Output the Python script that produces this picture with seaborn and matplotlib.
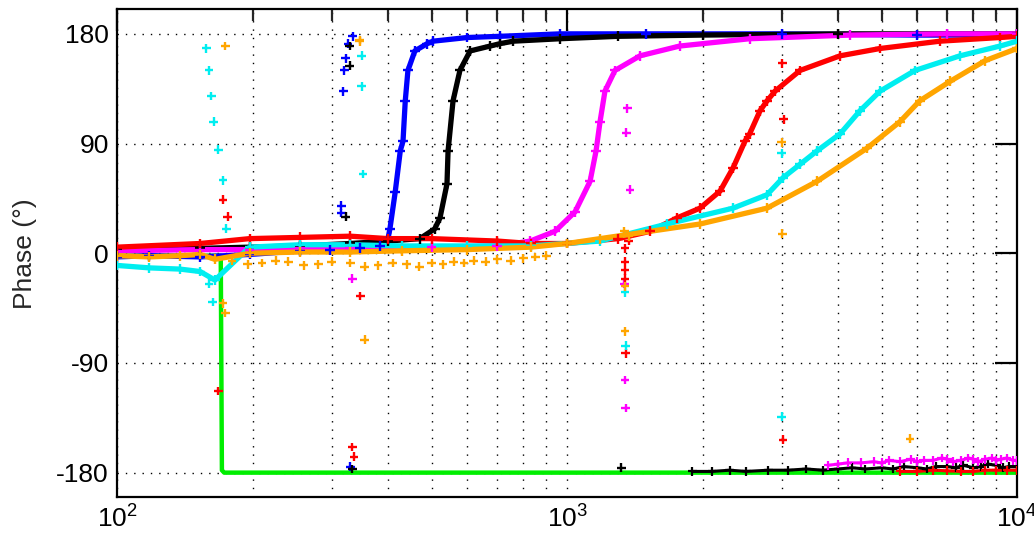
import numpy as np
import pandas as pd
import matplotlib
matplotlib.use("Agg")
import matplotlib.pyplot as plt
import seaborn as sns
from matplotlib.ticker import FixedLocator, NullFormatter, LogFormatterSciNotation

# ---------------- data ----------------
blue_f = [100, 118, 153, 197, 255, 297, 347, 384, 400, 404, 415, 426, 432, 437, 443, 459, 489, 504, 600, 710, 965, 1500, 3000, 6000, 10000]
blue_p = [-3, -2, -3, -1, 2, 3, 4, 6, 12, 20, 50, 84, 92, 125, 150, 166, 172, 174, 177, 178, 180, 180, 180, 179, 179]

black_f = [100, 153, 197, 255, 330, 400, 471, 508, 522, 541, 544, 558, 578, 609, 675, 710, 760, 965, 1300, 2000, 4000, 10000]
black_p = [3, 4, 5, 6, 8, 10, 12, 20, 29, 57, 84, 125, 150, 166, 170, 172, 174, 176, 178, 179, 180, 180]

magenta_f = [100, 153, 197, 255, 330, 500, 700, 828, 940, 1042, 1125, 1160, 1184, 1214, 1278, 1453, 1779, 2546, 4256, 7000, 10000]
magenta_p = [2, 3, 3, 4, 4, 5, 6, 10, 18, 34, 59, 84, 108, 133, 150, 162, 170, 176, 179, 180, 180]

red_f = [100, 153, 197, 255, 330, 400, 500, 700, 830, 1000, 1300, 1530, 1755, 1975, 2188, 2338, 2486, 2546, 2685, 2782, 2899, 3295, 4045, 4962, 6745, 9167, 10000]
red_p = [5, 8, 12, 13, 14, 12, 12, 10, 8, 8, 12, 18, 29, 37, 51, 70, 92, 98, 117, 125, 133, 150, 162, 168, 174, 177, 178]

cyan_f = [100, 118, 138, 153, 165, 197, 255, 330, 430, 600, 830, 1184, 1668, 2338, 2782, 3020, 3295, 3594, 4045, 4479, 4962, 5934, 7470, 9167, 10000]
cyan_p = [-10, -12, -13, -15, -22, 5, 7, 7, 6, 6, 6, 10, 24, 37, 48, 62, 73, 84, 98, 117, 133, 150, 162, 170, 174]

orange_f = [100, 118, 138, 153, 165, 197, 255, 330, 430, 600, 830, 1000, 1184, 1975, 2782, 3594, 4634, 5495, 6075, 7098, 8490, 10000]
orange_p = [-2, -3, -2, -1, -5, 0, 1, 1, 2, 3, 5, 8, 12, 24, 37, 59, 86, 108, 125, 141, 158, 168]

green_f = [100, 170, 171, 173, 10000]
green_p = [-2, -2, -178, -180, -180]

# scattered points (lower band, wrapped phases, outliers)
orange_low_f = [180, 195, 210, 225, 240, 260, 280, 300, 330, 355, 380, 410, 440, 470, 500, 530, 560, 590, 620, 660, 700, 750, 800, 850, 900]
orange_low_p = [-6, -9, -8, -6, -7, -10, -9, -7, -8, -11, -10, -8, -9, -11, -8, -9, -7, -8, -6, -7, -5, -6, -4, -3, -2]

black_wrap_f = [1900, 2100, 2300, 2500, 2800, 3100, 3400, 3700, 4000, 4300, 4600, 5000, 5300, 5600, 6000, 6300, 6600, 7000, 7300, 7600, 8000, 8300, 8600, 9000, 9300, 9600, 10000]
black_wrap_p = [-179, -179, -178, -179, -178, -178, -177, -178, -177, -176, -177, -176, -177, -175, -176, -177, -175, -175, -176, -174, -176, -175, -173, -174, -176, -175, -175]
magenta_wrap_f = [3800, 4000, 4200, 4500, 4800, 5000, 5200, 5500, 5800, 6000, 6200, 6500, 6800, 7000, 7200, 7500, 7800, 8000, 8200, 8500, 8800, 9000, 9200, 9500, 9800, 10000]
magenta_wrap_p = [-174, -173, -172, -172, -171, -172, -170, -171, -169, -171, -170, -170, -168, -169, -171, -170, -168, -169, -171, -169, -168, -170, -169, -168, -170, -170]
red_wrap_f = [5500, 6000, 6500, 7000, 7500, 8000, 8500, 9000, 9500, 10000]
red_wrap_p = [-179, -179, -178, -178.5, -179, -179, -178, -178, -178, -178]

blue_out_f = [318, 320, 322, 326, 334, 315, 315, 330]
blue_out_p = [133, 150, 160, 172, 178, 39, 33, -175]
black_out_f = [329, 329, 322, 333, 1320]
black_out_p = [154, 170, 30, -177, -176]
magenta_out_f = [1360, 1355, 1380, 1340, 1345, 1350, 333]
magenta_out_p = [119, 99, 52, -25, -104, -127, -21]
red_out_f = [1345, 1345, 1345, 1345, 1350, 1370, 3010, 3030, 3020, 333, 336, 347, 168, 172, 176]
red_out_p = [4, -7, -14, -21, -82, 10, 156, 110, -153, -159, -167, -35, -113, 44, 30]
cyan_out_f = [1345, 1350, 3000, 3000, 350, 350, 352, 158, 160, 162, 164, 168, 172, 175, 160, 163]
cyan_out_p = [-32, -76, 82, -134, 162, 137, 65, 168, 150, 129, 108, 85, 60, 20, -25, -40]
orange_out_f = [1340, 1345, 1345, 1370, 3000, 3010, 5780, 346, 346, 355, 174, 172, 174]
orange_out_p = [18, -27, -64, 14, 91, 16, -152, 174, 175, -71, 170, -41, -49]

# ---------------- build tables ----------------
colors = {"blue": "#0000ff", "black": "#000000", "magenta": "#ff00ff",
          "red": "#ff0000", "cyan": "#00eef0", "orange": "#ffa500", "green": "#00ee00"}

lines = {"blue": (blue_f, blue_p), "black": (black_f, black_p),
         "magenta": (magenta_f, magenta_p), "red": (red_f, red_p),
         "cyan": (cyan_f, cyan_p), "orange": (orange_f, orange_p)}
df_lines = pd.concat([pd.DataFrame({"f": f, "phase": p, "s": k}) for k, (f, p) in lines.items()],
                     ignore_index=True)
df_green = pd.DataFrame({"f": green_f, "phase": green_p, "s": "green"})

wraps = {"black": (black_wrap_f, black_wrap_p), "magenta": (magenta_wrap_f, magenta_wrap_p),
         "red": (red_wrap_f, red_wrap_p)}
df_wrap = pd.concat([pd.DataFrame({"f": f, "phase": p, "s": k}) for k, (f, p) in wraps.items()],
                    ignore_index=True)

pts = {"blue": [(blue_out_f, blue_out_p)],
       "black": [(black_out_f, black_out_p)],
       "magenta": [(magenta_out_f, magenta_out_p)],
       "red": [(red_out_f, red_out_p)],
       "cyan": [(cyan_out_f, cyan_out_p)],
       "orange": [(orange_low_f, orange_low_p), (orange_out_f, orange_out_p)]}
df_pts = pd.concat([pd.DataFrame({"f": f, "phase": p, "s": k})
                    for k, lst in pts.items() for (f, p) in lst], ignore_index=True)

# ---------------- plot ----------------
sns.set_style("white")
plt.rcParams['font.family'] = ['Liberation Sans', 'DejaVu Sans']
plt.rcParams['axes.unicode_minus'] = False

fig = plt.figure(figsize=(10.34, 5.42), dpi=100)
ax = fig.add_axes([0.1132, 0.083, 0.8704, 0.8995])
ax.set_xscale("log")

order = ["blue", "black", "magenta", "red", "cyan", "orange"]

sns.lineplot(data=df_green, x="f", y="phase", color=colors["green"], lw=3.2,
             estimator=None, sort=False, ax=ax, zorder=2)
sns.lineplot(data=df_wrap, x="f", y="phase", hue="s", hue_order=["red", "black", "magenta"],
             palette=colors, lw=2.2, estimator=None, sort=False, legend=False, ax=ax, zorder=3)
sns.scatterplot(data=df_wrap, x="f", y="phase", hue="s", hue_order=["red", "black", "magenta"],
                palette=colors, marker="+", s=40, linewidth=1.6, legend=False, ax=ax, zorder=3)
sns.lineplot(data=df_lines, x="f", y="phase", hue="s", hue_order=order, palette=colors,
             lw=3.8, estimator=None, sort=False, legend=False, ax=ax, zorder=3)
sns.scatterplot(data=df_lines, x="f", y="phase", hue="s", hue_order=order, palette=colors,
                marker="+", s=50, linewidth=1.7, legend=False, ax=ax, zorder=4)
sns.scatterplot(data=df_pts, x="f", y="phase", hue="s", hue_order=order, palette=colors,
                marker="+", s=40, linewidth=1.7, legend=False, ax=ax, zorder=4)

ax.set_xlim(100, 10000)
ax.set_ylim(-200, 200)
ax.set_yticks([-180, -90, 0, 90, 180])
ax.set_yticklabels(["-180", "-90", "0", "90", "180"])
ax.xaxis.set_major_locator(FixedLocator([100, 1000, 10000]))
ax.xaxis.set_major_formatter(LogFormatterSciNotation())
ax.xaxis.set_minor_locator(FixedLocator([m * d for d in (100, 1000) for m in range(2, 10)]))
ax.xaxis.set_minor_formatter(NullFormatter())

ax.grid(True, which="major", axis="both", color="black", linestyle=(0, (1, 5)), linewidth=1.0)
ax.grid(True, which="minor", axis="x", color="black", linestyle=(0, (1, 5)), linewidth=1.0)
ax.set_axisbelow(True)

ax.tick_params(which="major", direction="in", length=16, width=1.6, top=True, right=True,
               labelsize=19, pad=6, colors="black")
ax.tick_params(which="minor", direction="in", length=8.5, width=1.6, top=True, right=True)
for sp in ax.spines.values():
    sp.set_linewidth(1.6)
    sp.set_color("black")

ax.set_xlabel("")
ax.set_ylabel("Phase (°)", fontsize=19, labelpad=14)

fig.savefig("out.png", dpi=100)
